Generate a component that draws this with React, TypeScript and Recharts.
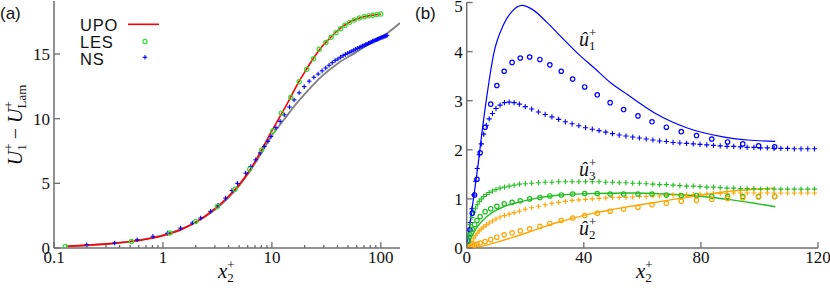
import React from 'react';
import { ComposedChart, Line, Scatter, XAxis, YAxis } from 'recharts';

// ---------- Panel (a): mean velocity, log x ----------
const aMajorTicks = [0.1, 1, 10, 100];
const aMinorTicks = [0.2, 0.3, 0.4, 0.5, 0.6, 0.7, 0.8, 0.9, 2, 3, 4, 5, 6, 7, 8, 9, 20, 30, 40, 50, 60, 70, 80, 90];
const aTickLabels = ['0.1', '1', '10', '100'];
const aYTicks = [0, 5, 10, 15];

const upoA = [
  [0.13, 0.13], [0.2, 0.22], [0.3, 0.32], [0.5, 0.5], [0.7, 0.68], [1, 0.95], [1.5, 1.45], [2, 2.0],
  [3, 3.05], [4, 4.0], [5, 4.9], [6.3, 6.05], [8, 7.55], [10, 9.05], [11.3, 9.85], [12.2, 10.35],
  [14, 11.25], [17, 12.6], [20, 13.6], [24, 14.65], [28, 15.45], [33, 16.1], [40, 16.8], [50, 17.4],
  [60, 17.7], [70, 17.88], [80, 17.98], [90, 18.04], [100, 18.08],
];
const lesA = [
  [0.127, 0.12], [0.514, 0.51], [1.16, 1.16], [2.0, 2.05], [3.16, 3.21], [4.59, 4.55], [6.26, 6.1],
  [8.07, 7.59], [10.2, 9.05], [12.2, 10.43], [14.9, 11.66], [17.8, 12.86], [20.9, 13.82], [24.1, 14.64],
  [27.2, 15.37], [31.3, 15.9], [35, 16.3], [38.7, 16.65], [42.7, 16.95], [46.9, 17.22], [51.8, 17.45],
  [57.1, 17.63], [63.5, 17.78], [70.6, 17.88], [77, 17.95], [84.3, 18.0], [92, 18.06], [100, 18.1],
];
const nsA = [
  [0.2, 0.25], [0.36, 0.39], [0.58, 0.64], [0.81, 0.9], [1.1, 1.15], [1.45, 1.54], [1.86, 1.93],
  [2.22, 2.32], [2.74, 2.83], [3.2, 3.3], [3.76, 3.86], [4.3, 4.45], [4.83, 5.0], [5.76, 5.79],
  [6.4, 6.3], [7.1, 6.82], [7.8, 7.35], [8.5, 7.85], [9.2, 8.25], [9.8, 8.62], [10.9, 9.3],
  [11.9, 9.8], [13, 10.3], [14.5, 10.9], [16, 11.45], [17.8, 12.0], [19.8, 12.48], [22, 12.9],
  [24.3, 13.2], [26.6, 13.45], [28.9, 13.7], [31.2, 13.92], [33.5, 14.13], [35.8, 14.33], [38.1, 14.5],
  [40.4, 14.62], [42.7, 14.75], [45, 14.87], [47.3, 14.97], [49.6, 15.06], [51.9, 15.14], [54.2, 15.22],
  [56.5, 15.3], [58.8, 15.37], [61.1, 15.44], [63.4, 15.5], [65.7, 15.56], [68, 15.62], [70.3, 15.68],
  [72.6, 15.73], [74.9, 15.78], [77.2, 15.83], [79.5, 15.88], [81.8, 15.93], [84.1, 15.98], [86.4, 16.02],
  [88.7, 16.06], [91, 16.1], [93.3, 16.14], [95.6, 16.18], [97.9, 16.22], [100.2, 16.26], [102.5, 16.29],
  [104.8, 16.32], [107.1, 16.35], [109.4, 16.38], [111.7, 16.41], [114, 16.44],
];
const grayA = [
  [0.13, 0.13], [0.5, 0.5], [1, 1.0], [1.5, 1.5], [2, 1.98], [3, 2.95], [4, 3.9], [5, 4.8], [6.3, 5.95],
  [8, 7.35], [10, 8.7], [13, 9.95], [16, 10.95], [20, 11.9], [28, 13.2], [40, 14.25], [57, 15.05],
  [81, 15.85], [116, 16.65], [150, 17.4],
];

// ---------- Panel (b): rms fluctuations ----------
const bXTicks = [0, 40, 80, 120];
const bYTicks = [0, 1, 2, 3, 4, 5];

const upoU1 = [
  [0, 0], [1, 0.44], [2.3, 1.0], [4, 1.75], [5.2, 2.35], [6.9, 3.1], [9.2, 3.95], [12.6, 4.55], [15.5, 4.82],
  [18.9, 4.94], [22.4, 4.86], [27.5, 4.59], [32.1, 4.31], [37.8, 3.97], [43.5, 3.67], [49.3, 3.36],
  [55, 3.12], [64.2, 2.75], [75.6, 2.44], [87.1, 2.27], [96, 2.2], [105.4, 2.17],
];
const upoU2 = [
  [0, 0], [2, 0.005], [4.6, 0.03], [9.2, 0.1], [14.9, 0.2], [20.6, 0.31], [26.3, 0.43], [32.1, 0.54],
  [37.8, 0.63], [43.5, 0.71], [49.3, 0.78], [56.2, 0.85], [67.6, 0.96], [79.1, 1.07], [90.6, 1.16], [105.4, 1.22],
];
const upoU3 = [
  [0, 0], [1, 0.14], [2.3, 0.3], [4, 0.46], [6.9, 0.64], [9.5, 0.75], [12.6, 0.84], [18.3, 0.94], [25.2, 1.03],
  [32.1, 1.08], [43.5, 1.11], [56.2, 1.12], [67.6, 1.1], [79.1, 1.06], [90.6, 0.98], [105.4, 0.84],
];

const lesX = [0, 0.5, 1.1, 1.9, 2.7, 3.5, 4.6, 6.3, 8.2, 10.3, 12.8, 15.5, 18.3, 21.5, 25, 28.4, 32.3, 36.2,
  40.3, 44.6, 49, 53.6, 58.5, 63.3, 68.2, 73.3, 78.5, 83.7, 89.1, 94.3, 99.7, 105.2];
const lesU1 = [0, 0.15, 0.37, 0.71, 1.08, 1.4, 1.94, 2.46, 2.93, 3.31, 3.6, 3.78, 3.87, 3.89, 3.84, 3.73, 3.6,
  3.44, 3.28, 3.12, 2.96, 2.82, 2.69, 2.57, 2.46, 2.37, 2.29, 2.22, 2.16, 2.12, 2.08, 2.06];
const lesU2 = [0, 0, 0.02, 0.04, 0.06, 0.08, 0.1, 0.13, 0.17, 0.22, 0.27, 0.31, 0.35, 0.39, 0.44, 0.5, 0.56,
  0.61, 0.66, 0.71, 0.75, 0.79, 0.83, 0.88, 0.91, 0.95, 0.97, 0.99, 1.01, 1.02, 1.04, 1.05];
const lesU3 = [0, 0.15, 0.27, 0.38, 0.48, 0.56, 0.64, 0.74, 0.8, 0.85, 0.9, 0.93, 0.96, 1.0, 1.03, 1.06, 1.08,
  1.1, 1.11, 1.11, 1.1, 1.1, 1.1, 1.1, 1.08, 1.07, 1.07, 1.05, 1.05, 1.05, 1.05, 1.05];

const nsX = [0, 0.6, 1.2, 1.8, 2.4, 3.0, 3.6, 4.3, 5.0, 5.8, 6.7, 7.7, 8.8, 10.0, 11.4, 12.9, 14.5, 16.2, 18.0,
  20.0, 22.2, 24.5, 26.8, 29.1, 31.4, 33.7, 36.0, 38.3, 40.6, 42.9, 45.2, 47.5, 49.8, 52.1, 54.4, 56.7, 59.0,
  61.3, 63.6, 65.9, 68.2, 70.5, 72.8, 75.1, 77.4, 79.7, 82.0, 84.3, 86.6, 88.9, 91.2, 93.5, 95.8, 98.1, 100.4,
  102.7, 105.0, 107.3, 109.6, 111.9, 114.2, 116.5, 118.8];
const nsU1 = [0, 0.25, 0.52, 0.8, 1.08, 1.36, 1.62, 1.9, 2.12, 2.32, 2.5, 2.63, 2.74, 2.84, 2.91, 2.96, 2.97,
  2.96, 2.93, 2.88, 2.83, 2.77, 2.72, 2.67, 2.62, 2.57, 2.53, 2.49, 2.45, 2.42, 2.39, 2.36, 2.33, 2.3, 2.28,
  2.26, 2.24, 2.22, 2.2, 2.18, 2.17, 2.15, 2.14, 2.13, 2.12, 2.11, 2.1, 2.09, 2.08, 2.07, 2.07, 2.06, 2.05,
  2.05, 2.04, 2.04, 2.03, 2.03, 2.03, 2.02, 2.02, 2.02, 2.02];
const nsU2 = [0, 0.03, 0.07, 0.13, 0.2, 0.25, 0.3, 0.35, 0.39, 0.43, 0.47, 0.51, 0.55, 0.59, 0.63, 0.66, 0.69,
  0.72, 0.75, 0.79, 0.82, 0.85, 0.88, 0.91, 0.93, 0.95, 0.97, 0.98, 0.99, 1.0, 1.01, 1.02, 1.03, 1.03, 1.03,
  1.04, 1.05, 1.05, 1.06, 1.06, 1.07, 1.08, 1.08, 1.09, 1.09, 1.1, 1.1, 1.11, 1.11, 1.11, 1.12, 1.12, 1.12,
  1.12, 1.12, 1.12, 1.12, 1.12, 1.12, 1.12, 1.12, 1.12, 1.12];
const nsU3 = [0, 0.27, 0.48, 0.62, 0.73, 0.81, 0.88, 0.95, 1.0, 1.05, 1.09, 1.13, 1.16, 1.19, 1.22, 1.24, 1.26,
  1.28, 1.3, 1.31, 1.32, 1.33, 1.34, 1.34, 1.35, 1.35, 1.35, 1.35, 1.35, 1.35, 1.35, 1.34, 1.34, 1.33, 1.33,
  1.32, 1.32, 1.31, 1.3, 1.29, 1.29, 1.28, 1.27, 1.26, 1.26, 1.25, 1.24, 1.24, 1.23, 1.22, 1.22, 1.21, 1.21,
  1.21, 1.2, 1.2, 1.2, 1.2, 1.2, 1.2, 1.2, 1.2, 1.2];

// ---------- helpers ----------
const AXIS = '#6e6e6e';
const SERIF = '"Liberation Serif", "DejaVu Serif", serif';
const SANS = '"Liberation Sans", Arial, sans-serif';
const BLUE = '#0000ff';
const GREEN = '#1fbf1f';
const LGREEN = '#33dd33';
const ORANGE = '#ffa500';
const RED = '#ff0000';
const TICK_FS = 17;

const pts = (arr: number[][]) => arr.map(([x, y]) => ({ x, y }));
const zip = (xs: number[], ys: number[]) => xs.map((x, i) => ({ x, y: ys[i] }));

type Side = 'bottom' | 'top' | 'left' | 'right';
const makeTick = (side: Side, majors: number[], labels: string[] | null) => (p: any) => {
  const { x, y, payload } = p;
  const v = payload.value;
  const mi = majors.findIndex((m) => Math.abs(m - v) < 1e-9);
  const len = mi >= 0 ? 6 : 3;
  let l = [x, y, x, y];
  if (side === 'bottom') l = [x, y, x, y - len];
  if (side === 'top') l = [x, y, x, y + len];
  if (side === 'left') l = [x, y, x + len, y];
  if (side === 'right') l = [x, y, x - len, y];
  let t: any = null;
  if (labels && mi >= 0) {
    if (side === 'bottom')
      t = <text x={x} y={y + 15} textAnchor="middle" fontFamily={SERIF} fontSize={TICK_FS} fill="#111">{labels[mi]}</text>;
    if (side === 'left')
      t = <text x={x - 4} y={Math.max(y + 6, 12)} textAnchor="end" fontFamily={SERIF} fontSize={TICK_FS} fill="#111">{labels[mi]}</text>;
  }
  return (
    <g>
      <line x1={l[0]} y1={l[1]} x2={l[2]} y2={l[3]} stroke={AXIS} strokeWidth={1.3} />
      {t}
    </g>
  );
};

const Circle = (color: string, r = 2.2) => (p: any) =>
  <circle cx={p.cx} cy={p.cy} r={r} fill="none" stroke={color} strokeWidth={1.2} />;
const Plus = (color: string, h = 2.6) => (p: any) => (
  <g stroke={color} strokeWidth={1.1}>
    <line x1={p.cx - h} x2={p.cx + h} y1={p.cy} y2={p.cy} />
    <line x1={p.cx} x2={p.cx} y1={p.cy - h} y2={p.cy + h} />
  </g>
);

const axisLine = { stroke: AXIS, strokeWidth: 1.5 };
const common = { tickSize: 0, tickMargin: 0, tickLine: false, interval: 0 as const, axisLine, allowDataOverflow: true };

const PanelA = () => {
  const allTicks = [...aMajorTicks, ...aMinorTicks].sort((a, b) => a - b);
  return (
    <ComposedChart width={415} height={291} margin={{ top: 1, right: 15, bottom: 0, left: 0 }}>
      <XAxis xAxisId="b" dataKey="x" type="number" scale="log" domain={[0.1, 150]} ticks={allTicks} height={43}
        tick={makeTick('bottom', aMajorTicks, aTickLabels)} {...common} />
      <XAxis xAxisId="t" orientation="top" type="number" scale="log" domain={[0.1, 150]} ticks={allTicks} height={0}
        tick={makeTick('top', aMajorTicks, null)} {...common} />
      <YAxis yAxisId="l" dataKey="y" type="number" domain={[0, 19.1]} ticks={aYTicks} width={54}
        tick={makeTick('left', aYTicks, aYTicks.map(String))} {...common} />
      <YAxis yAxisId="r" orientation="right" type="number" domain={[0, 19.1]} ticks={aYTicks} width={0}
        tick={makeTick('right', aYTicks, null)} {...common} />
      <Line xAxisId="b" yAxisId="l" data={pts(grayA)} dataKey="y" stroke="#808080" strokeWidth={1.8} dot={false} type="monotone" isAnimationActive={false} />
      <Scatter xAxisId="b" yAxisId="l" data={pts(nsA)} dataKey="y" shape={Plus(BLUE, 2.3)} isAnimationActive={false} />
      <Scatter xAxisId="b" yAxisId="l" data={pts(lesA)} dataKey="y" shape={Circle(LGREEN, 2.1)} isAnimationActive={false} />
      <Line xAxisId="b" yAxisId="l" data={pts(upoA)} dataKey="y" stroke={RED} strokeWidth={1.6} dot={false} type="monotone" isAnimationActive={false} />
    </ComposedChart>
  );
};

const PanelB = () => (
  <ComposedChart width={415} height={291} margin={{ top: 2.5, right: 12, bottom: 0, left: 0 }}>
    <XAxis xAxisId="b" dataKey="x" type="number" domain={[0, 120]} ticks={bXTicks} height={43}
      tick={makeTick('bottom', bXTicks, bXTicks.map(String))} {...common} />
    <XAxis xAxisId="t" orientation="top" type="number" domain={[0, 120]} ticks={bXTicks} height={0}
      tick={makeTick('top', bXTicks, null)} {...common} />
    <YAxis yAxisId="l" dataKey="y" type="number" domain={[0, 5]} ticks={bYTicks} width={51.7}
      tick={makeTick('left', bYTicks, bYTicks.map(String))} {...common} />
    <YAxis yAxisId="r" orientation="right" type="number" domain={[0, 5]} ticks={bYTicks} width={0}
      tick={makeTick('right', bYTicks, null)} {...common} />
    <Line xAxisId="b" yAxisId="l" data={pts(upoU1)} dataKey="y" stroke={BLUE} strokeWidth={1.2} dot={false} type="monotone" isAnimationActive={false} />
    <Line xAxisId="b" yAxisId="l" data={pts(upoU3)} dataKey="y" stroke={GREEN} strokeWidth={1.4} dot={false} type="monotone" isAnimationActive={false} />
    <Line xAxisId="b" yAxisId="l" data={pts(upoU2)} dataKey="y" stroke={ORANGE} strokeWidth={1.4} dot={false} type="monotone" isAnimationActive={false} />
    <Scatter xAxisId="b" yAxisId="l" data={zip(nsX, nsU1)} dataKey="y" shape={Plus(BLUE)} isAnimationActive={false} />
    <Scatter xAxisId="b" yAxisId="l" data={zip(nsX, nsU3)} dataKey="y" shape={Plus(GREEN)} isAnimationActive={false} />
    <Scatter xAxisId="b" yAxisId="l" data={zip(nsX, nsU2)} dataKey="y" shape={Plus(ORANGE)} isAnimationActive={false} />
    <Scatter xAxisId="b" yAxisId="l" data={zip(lesX, lesU1)} dataKey="y" shape={Circle(BLUE)} isAnimationActive={false} />
    <Scatter xAxisId="b" yAxisId="l" data={zip(lesX, lesU3)} dataKey="y" shape={Circle(GREEN)} isAnimationActive={false} />
    <Scatter xAxisId="b" yAxisId="l" data={zip(lesX, lesU2)} dataKey="y" shape={Circle(ORANGE)} isAnimationActive={false} />
  </ComposedChart>
);

const SUP = 13;
const HatLabel = ({ x, y, sub }: { x: number; y: number; sub: string }) => (
  <text x={x} y={y} fontFamily={SERIF} fontSize={20} fontStyle="italic" fill="#111">
    û
    <tspan fontSize={SUP} fontStyle="normal" dy={-9}>+</tspan>
    <tspan fontSize={SUP} fontStyle="normal" dx={-7.3} dy={13}>{sub}</tspan>
  </text>
);

const XLabel = ({ x, y }: { x: number; y: number }) => (
  <text x={x} y={y} fontFamily={SERIF} fontSize={21} fontStyle="italic" fill="#111">
    x
    <tspan fontSize={SUP} fontStyle="normal" dy={-9}>+</tspan>
    <tspan fontSize={SUP} fontStyle="normal" dx={-7.3} dy={13}>2</tspan>
  </text>
);

const Overlay = () => (
  <svg width={830} height={291} style={{ position: 'absolute', left: 0, top: 0, pointerEvents: 'none' }}>
    <text x={0} y={19} fontFamily={SANS} fontSize={17} fill="#111">(a)</text>
    <text x={415} y={19} fontFamily={SANS} fontSize={17} fill="#111">(b)</text>
    {/* legend */}
    <text x={80} y={30.5} fontFamily={SANS} fontSize={16.5} letterSpacing={0.8} fill="#111">UPO</text>
    <text x={80} y={48} fontFamily={SANS} fontSize={16.5} letterSpacing={0.8} fill="#111">LES</text>
    <text x={80} y={65} fontFamily={SANS} fontSize={16.5} letterSpacing={0.8} fill="#111">NS</text>
    <line x1={128} x2={159} y1={24.3} y2={24.3} stroke={RED} strokeWidth={1.6} />
    <circle cx={145} cy={41.5} r={2.1} fill="none" stroke={LGREEN} strokeWidth={1.2} />
    <g stroke={BLUE} strokeWidth={1.1}>
      <line x1={142.7} x2={147.3} y1={57.3} y2={57.3} />
      <line x1={145} x2={145} y1={55} y2={59.6} />
    </g>
    {/* y label (a) */}
    <text transform="translate(22,125) rotate(-90)" textAnchor="middle" fontFamily={SERIF} fontSize={20} fill="#111">
      <tspan fontStyle="italic">U</tspan>
      <tspan fontSize={SUP} dy={-9}>+</tspan>
      <tspan fontSize={SUP} dx={-7.3} dy={13}>1</tspan>
      <tspan dy={-4}>{' \u2212 '}</tspan>
      <tspan fontStyle="italic">U</tspan>
      <tspan fontSize={SUP} dy={-9}>+</tspan>
      <tspan fontSize={SUP} dx={-7.3} dy={13}>Lam</tspan>
    </text>
    <XLabel x={218} y={278} />
    <XLabel x={636} y={278} />
    <HatLabel x={579} y={46} sub="1" />
    <HatLabel x={579} y={176} sub="3" />
    <HatLabel x={579} y={235} sub="2" />
  </svg>
);

export default function App() {
  return (
    <div style={{ position: 'absolute', left: 0, top: 0, width: 830, height: 291, background: '#fff' }}>
      <div style={{ position: 'absolute', left: 0, top: 0 }}><PanelA /></div>
      <div style={{ position: 'absolute', left: 415, top: 0 }}><PanelB /></div>
      <Overlay />
    </div>
  );
}
